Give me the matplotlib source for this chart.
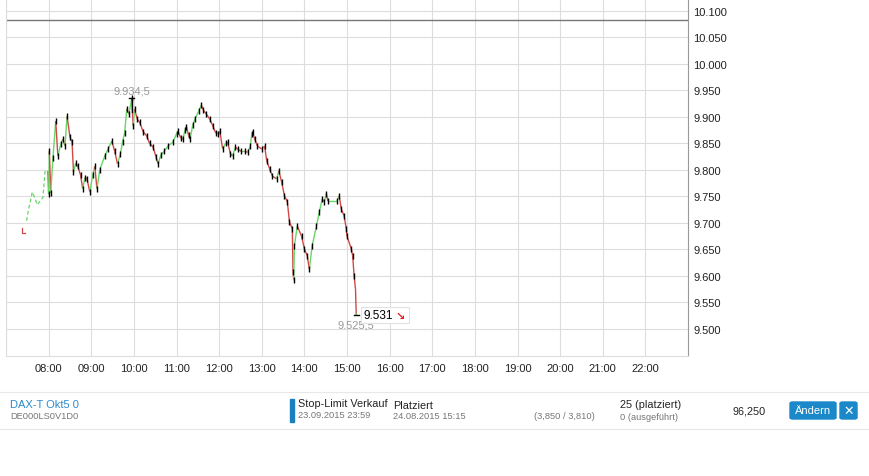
import matplotlib

matplotlib.use("Agg")
import matplotlib.pyplot as plt
from matplotlib.collections import LineCollection
from matplotlib.patches import FancyBboxPatch, Rectangle
import numpy as np

plt.rcParams["font.family"] = ["Liberation Sans", "DejaVu Sans"]

# first pre-market bar (time, high, low)
first_bar = ("07:22", 9691, 9680)

# pre-market quotes (dashed)
pre_times = ["07:29", "07:31", "07:37", "07:40", "07:44", "07:52", "07:55"]
pre_prices = [9704, 9720, 9758, 9749, 9734, 9748, 9798]

# intraday quotes
times = [
    "07:59", "08:00", "08:01", "08:03", "08:06", "08:10", "08:13", "08:17", "08:20", "08:23",
    "08:26", "08:30", "08:33", "08:35", "08:38", "08:41", "08:45", "08:48", "08:51", "08:54",
    "08:58", "09:02", "09:05", "09:08", "09:12", "09:19", "09:24", "09:29", "09:33", "09:37",
    "09:41", "09:44", "09:47", "09:50", "09:53", "09:57", "09:59", "10:01", "10:05", "10:08",
    "10:13", "10:18", "10:22", "10:27", "10:31", "10:34", "10:38", "10:43", "10:48", "10:55",
    "11:00", "11:02", "11:06", "11:09", "11:12", "11:14", "11:17", "11:19", "11:23", "11:26",
    "11:31", "11:35", "11:38", "11:42", "11:47", "11:51", "11:55", "11:58", "12:01", "12:05",
    "12:09", "12:12", "12:16", "12:19", "12:23", "12:26", "12:31", "12:36", "12:40", "12:44",
    "12:46", "12:47", "12:50", "12:54", "13:00", "13:04", "13:07", "13:11", "13:15", "13:21",
    "13:24", "13:28", "13:32", "13:36", "13:39", "13:43", "13:44", "13:45", "13:46", "13:50",
    "13:56", "14:00", "14:04", "14:07", "14:11", "14:17", "14:21", "14:25", "14:28", "14:31",
    "14:33", "14:46", "14:49", "14:52", "14:56", "14:59", "15:00", "15:06", "15:08", "15:10",
    "15:12", "15:13", "15:13",
]
prices = [
    9798, 9754, 9835, 9757, 9822, 9892, 9826, 9848, 9858, 9845,
    9901, 9862, 9852, 9796, 9812, 9807, 9790, 9764, 9785, 9783,
    9758, 9790, 9807, 9764, 9800, 9826, 9840, 9854, 9835, 9811,
    9830, 9852, 9870, 9915, 9905, 9934.5, 9883, 9914, 9895, 9890,
    9872, 9864, 9850, 9843, 9825, 9811, 9828, 9835, 9845, 9852,
    9868, 9873, 9860, 9858, 9875, 9881, 9865, 9858, 9885, 9896,
    9910, 9922, 9912, 9905, 9895, 9883, 9870, 9868, 9873, 9839,
    9850, 9852, 9830, 9826, 9843, 9839, 9835, 9835, 9833, 9845,
    9868, 9871, 9858, 9845, 9839, 9845, 9817, 9802, 9788, 9783,
    9798, 9777, 9751, 9740, 9702, 9689, 9608, 9592, 9657, 9694,
    9675, 9651, 9638, 9613, 9657, 9694, 9720, 9745, 9740, 9755,
    9741, 9741, 9751, 9726, 9713, 9689, 9675, 9651, 9638, 9600,
    9575, 9525.5, 9531,
]

day_high = 9934.5
day_low = 9525.5
last_price = 9531
stop_line = 10082

y_ticks = list(range(9500, 10101, 50))
x_ticks = list(range(8, 23))


def to_hours(t):
    h, m = t.split(":")
    return int(h) + int(m) / 60.0


def de_format(v):
    return "{:,}".format(int(v)).replace(",", ".")


fig = plt.figure(figsize=(8.69, 4.77), dpi=100)
ax = fig.add_axes([6 / 869, 1 - 357 / 477, 682 / 869, 357 / 477])

green = "#66d866"
red = "#d04848"

# first bar as red L
t0 = to_hours(first_bar[0])
ax.plot([t0, t0, t0 + 0.08], [first_bar[1], first_bar[2], first_bar[2]], color=red, lw=0.9)

# pre-market dashed
px = [to_hours(t) for t in pre_times]
ax.plot(px, pre_prices, color=green, lw=0.9, ls=(0, (3, 2)))

# intraday line, green up / red down
xs = np.array([to_hours(t) for t in times])
ys = np.array(prices, dtype=float)
segs = [[(xs[i], ys[i]), (xs[i + 1], ys[i + 1])] for i in range(len(xs) - 1)]
cols = [green if ys[i + 1] >= ys[i] else red for i in range(len(xs) - 1)]
ax.add_collection(LineCollection(segs, colors=cols, linewidths=1.0))
ax.plot(xs[1:-3], ys[1:-3], ls="none", marker="|", ms=4, mew=1.0, color="black")

# horizontal level line
ax.axhline(stop_line, color="#777777", lw=1.0)

# high / low markers
hi_x = xs[prices.index(day_high)]
lo_x = xs[prices.index(day_low)]
ax.plot([hi_x - 0.06, hi_x + 0.06], [day_high, day_high], color="black", lw=1.0)
ax.plot([hi_x, hi_x], [day_high, day_high - 25], color="black", lw=1.0)
ax.text(hi_x, day_high + 6, de_format(day_high) + ",5", ha="center", va="bottom",
        fontsize=8, color="#999999")
ax.plot([lo_x - 0.06, lo_x + 0.06], [day_low, day_low], color="black", lw=1.0)
ax.text(lo_x, day_low - 7, de_format(day_low) + ",5", ha="center", va="top",
        fontsize=8, color="#999999")

# last price box with red down arrow
ax.add_patch(Rectangle((lo_x + 0.12, day_low - 14), 1.12, 29, fc="white", ec="#e2e2e2",
                       lw=0.8, zorder=4))
ax.text(lo_x + 0.18, day_low + 1, de_format(last_price), ha="left", va="center",
        fontsize=8.5, color="black", zorder=5)
ax.text(lo_x + 1.04, day_low, "\u2198", ha="center", va="center", fontsize=8,
        color="#e02020", fontweight="bold", family=["DejaVu Sans"], zorder=5)

ax.set_xlim(7, 23)
ax.set_ylim(9449, 10122)
ax.set_xticks(x_ticks)
ax.set_xticklabels(["{:02d}:00".format(h) for h in x_ticks])
ax.set_yticks(y_ticks)
ax.set_yticklabels([de_format(v) for v in y_ticks])
ax.yaxis.tick_right()
ax.set_xticks([7], minor=True)
ax.tick_params(axis="both", which="both", length=0, labelsize=8, colors="#222222")
ax.tick_params(axis="x", pad=5)
ax.tick_params(axis="y", pad=4)
ax.grid(True, color="#dddddd", lw=0.8)
ax.xaxis.grid(True, which="minor", color="#dddddd", lw=0.8)
ax.set_axisbelow(True)
for side in ["left", "bottom"]:
    ax.spines[side].set_color("#dddddd")
ax.spines["right"].set_color("#999999")
ax.spines["top"].set_visible(False)

# order panel below the chart
fig.add_artist(plt.Line2D([0, 1], [1 - 393 / 477] * 2, color="#e8e8e8", lw=0.8))
fig.add_artist(plt.Line2D([0, 1], [1 - 430 / 477] * 2, color="#e8e8e8", lw=0.8))


def ftext(x, y, s, **kw):
    fig.text(x / 869, 1 - y / 477, s, va="center", **kw)


ftext(10, 405, "DAX-T Okt5 0", fontsize=8, color="#2b8acb")
ftext(10, 417, "DE000LS0V1D0", fontsize=6.7, color="#777777")
fig.add_artist(Rectangle((290 / 869, 1 - 423 / 477), 4 / 869, 23 / 477, color="#1a7fc1"))
ftext(298, 404, "Stop-Limit Verkauf", fontsize=7.8, color="#222222")
ftext(298, 416, "23.09.2015 23:59", fontsize=6.7, color="#777777")
ftext(393, 406, "Platziert", fontsize=7.8, color="#222222")
ftext(393, 417, "24.08.2015 15:15", fontsize=6.7, color="#777777")
ftext(595, 417, "(3,850 / 3,810)", fontsize=6.7, color="#777777", ha="right")
ftext(620, 405, "25 (platziert)", fontsize=7.8, color="#222222")
ftext(620, 418, "0 (ausgeführt)", fontsize=6.7, color="#777777")
ftext(766, 411, "96,250", fontsize=7.8, color="#222222", ha="right")
fig.add_artist(FancyBboxPatch((790 / 869, 1 - 420 / 477), 46 / 869, 17 / 477,
                              boxstyle="round,pad=0,rounding_size=0.003", color="#1a88c9"))
ftext(813, 411.5, "Ändern", fontsize=8, color="white", ha="center")
fig.add_artist(FancyBboxPatch((840 / 869, 1 - 420 / 477), 17 / 869, 17 / 477,
                              boxstyle="round,pad=0,rounding_size=0.003", color="#1a88c9"))
ftext(848.5, 411.5, "\u2715", fontsize=9, color="white", ha="center", fontweight="bold",
      family=["DejaVu Sans"])

fig.savefig("out.png", dpi=100)
